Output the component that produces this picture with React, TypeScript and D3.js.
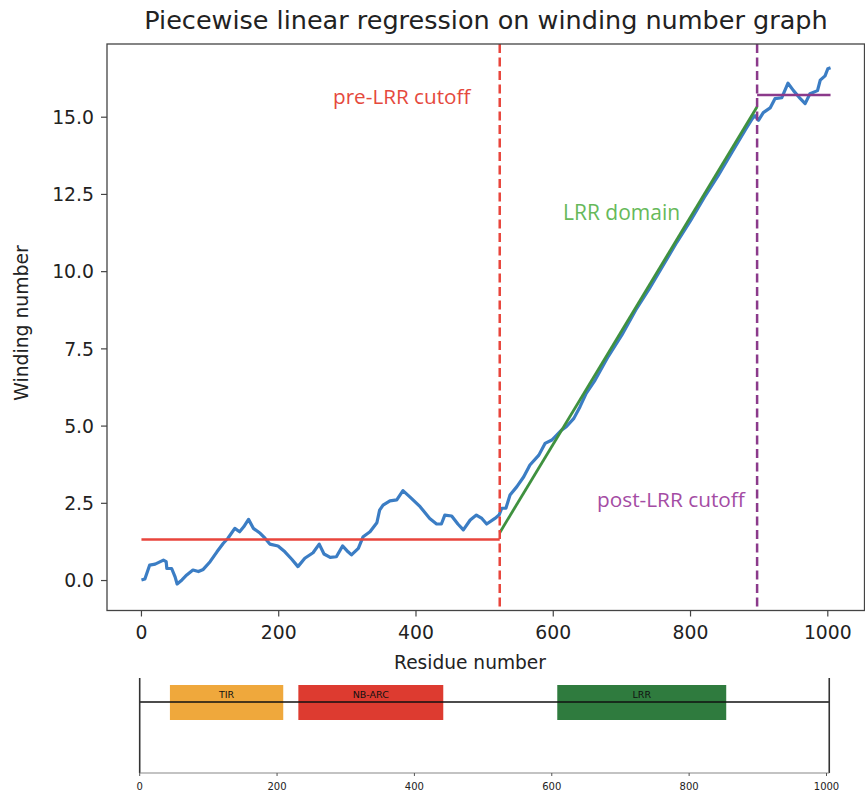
import React from "react";
import * as d3 from "d3";

// ---------- data ----------
const residues = [0, 5, 12, 20, 32, 36, 37, 44, 49, 52, 59, 66, 75, 83, 90, 100, 110, 119, 126, 136, 143, 149, 156, 163, 173, 180, 187, 199, 209, 219, 228, 238, 250, 259, 266, 275, 284, 293, 301, 306, 316, 323, 333, 343, 347, 352, 362, 372, 381, 391, 406, 420, 430, 437, 442, 452, 461, 469, 479, 488, 496, 503, 515, 521, 525, 531, 537, 547, 557, 566, 579, 588, 598, 605, 612, 619, 630, 639, 648, 661, 680, 700, 720, 740, 760, 780, 800, 820, 840, 860, 880, 890, 894, 899, 906, 916, 923, 933, 942, 950, 960, 967, 974, 985, 989, 996, 1000, 1004];
const winding = [0.02, 0.05, 0.5, 0.53, 0.66, 0.61, 0.39, 0.39, 0.12, -0.11, 0.02, 0.18, 0.34, 0.29, 0.36, 0.61, 0.93, 1.2, 1.37, 1.69, 1.58, 1.74, 1.98, 1.69, 1.53, 1.37, 1.18, 1.12, 0.93, 0.69, 0.45, 0.72, 0.9, 1.18, 0.86, 0.75, 0.77, 1.12, 0.93, 0.83, 1.04, 1.42, 1.58, 1.87, 2.28, 2.44, 2.58, 2.61, 2.91, 2.71, 2.39, 2.01, 1.83, 1.83, 2.12, 2.09, 1.83, 1.64, 1.96, 2.12, 2.01, 1.83, 2.01, 2.12, 2.34, 2.34, 2.77, 3.04, 3.36, 3.74, 4.06, 4.44, 4.55, 4.71, 4.87, 4.98, 5.25, 5.63, 6.06, 6.49, 7.25, 7.95, 8.75, 9.45, 10.2, 10.95, 11.65, 12.4, 13.1, 13.85, 14.6, 14.95, 15.05, 14.9, 15.15, 15.3, 15.6, 15.63, 16.1, 15.86, 15.6, 15.44, 15.76, 15.86, 16.2, 16.34, 16.57, 16.6];

const preCutoff = 522;
const postCutoff = 897;
const seqLength = 1004;
const preLevel = 1.33;
const lrrStartLevel = 1.55;
const lrrEndLevel = 15.34;
const postLevel = 15.72;

const xTicks = [0, 200, 400, 600, 800, 1000];
const yTicks = [0, 2.5, 5, 7.5, 10, 12.5, 15];

const domainNames = ["TIR", "NB-ARC", "LRR"];
const domainStarts = [44, 231, 608];
const domainEnds = [209, 442, 854];
const domainColors = ["#efa83c", "#dd3b30", "#2f7b3e"];

// ---------- layout ----------
const W = 865;
const H = 792;
const plot = { left: 107, right: 865, top: 44, bottom: 610.5 };
const panel = { left: 139.7, right: 826.5, top: 678, bottom: 773 };

const dejavu = "'DejaVu Sans', sans-serif";
const annot = "'Open Sans', sans-serif";

export default function App() {
  const x = d3.scaleLinear().domain([-50.2, 1054.2]).range([plot.left, plot.right]);
  const y = d3.scaleLinear().domain([-0.97, 17.37]).range([plot.bottom, plot.top]);
  const px = d3.scaleLinear().domain([0, 1000]).range([panel.left, panel.right]);

  const pts: [number, number][] = residues.map((r, i) => [r, winding[i]]);
  const line = d3
    .line<[number, number]>()
    .x((d) => x(d[0]))
    .y((d) => y(d[1]));

  const fitPre: [number, number][] = [
    [0, preLevel],
    [preCutoff, preLevel],
  ];
  const fitLrr: [number, number][] = [
    [preCutoff, lrrStartLevel],
    [postCutoff, lrrEndLevel],
  ];
  const fitPost: [number, number][] = [
    [postCutoff, postLevel],
    [seqLength, postLevel],
  ];

  const boxTop = 685;
  const boxBottom = 720;
  const lineY = 702;

  return (
    <svg
      width={W}
      height={H}
      style={{ position: "absolute", left: 0, top: 0, background: "#fff" }}
    >
      <rect x={0} y={0} width={W} height={H} fill="#fff" />
      {/* title */}
      <text
        x={486}
        y={29}
        textAnchor="middle"
        fontFamily={dejavu}
        fontSize={25.5}
        fill="#222"
      >
        Piecewise linear regression on winding number graph
      </text>

      {/* data */}
      <path d={line(pts) || ""} fill="none" stroke="#3b7dc4" strokeWidth={3.2} strokeLinejoin="round" />
      <path d={line(fitPre) || ""} fill="none" stroke="#e8453c" strokeWidth={2.5} />
      <path d={line(fitLrr) || ""} fill="none" stroke="#3f913f" strokeWidth={2.8} />
      <path d={line(fitPost) || ""} fill="none" stroke="#8b3a8b" strokeWidth={2.5} />

      {/* cutoffs */}
      <line
        x1={x(preCutoff)}
        x2={x(preCutoff)}
        y1={plot.top}
        y2={plot.bottom}
        stroke="#e8453c"
        strokeWidth={2.5}
        strokeDasharray="9,4.5"
      />
      <line
        x1={x(postCutoff)}
        x2={x(postCutoff)}
        y1={plot.top}
        y2={plot.bottom}
        stroke="#8b3a8b"
        strokeWidth={2.5}
        strokeDasharray="9,4.5"
      />

      {/* frame */}
      <rect
        x={plot.left}
        y={plot.top}
        width={plot.right - plot.left - 0.5}
        height={plot.bottom - plot.top}
        fill="none"
        stroke="#444"
        strokeWidth={1.3}
      />

      {/* x ticks */}
      {xTicks.map((t) => (
        <g key={"xt" + t}>
          <line x1={x(t)} x2={x(t)} y1={plot.bottom} y2={plot.bottom + 6} stroke="#444" strokeWidth={1.2} />
          <text x={x(t)} y={plot.bottom + 28} textAnchor="middle" fontFamily={dejavu} fontSize={18.8} fill="#222">
            {t}
          </text>
        </g>
      ))}
      {/* y ticks */}
      {yTicks.map((t) => (
        <g key={"yt" + t}>
          <line x1={plot.left - 6} x2={plot.left} y1={y(t)} y2={y(t)} stroke="#444" strokeWidth={1.2} />
          <text
            x={plot.left - 13}
            y={y(t)}
            dy="0.36em"
            textAnchor="end"
            fontFamily={dejavu}
            fontSize={18.8}
            fill="#222"
          >
            {t.toFixed(1)}
          </text>
        </g>
      ))}

      {/* axis labels */}
      <text x={470} y={669} textAnchor="middle" fontFamily={dejavu} fontSize={18.6} fill="#222">
        Residue number
      </text>
      <text
        transform={`translate(28,323) rotate(-90)`}
        textAnchor="middle"
        fontFamily={dejavu}
        fontSize={18.8}
        fill="#222"
      >
        Winding number
      </text>

      {/* annotations */}
      <text x={333} y={104} fontFamily={annot} fontSize={20.7} fontWeight={500} fill="#e5493d">
        pre-LRR cutoff
      </text>
      <text x={563} y={220} fontFamily={annot} fontSize={21} fontWeight={500} fill="#66b95a">
        LRR domain
      </text>
      <text x={597} y={507} fontFamily={annot} fontSize={20.8} fontWeight={500} fill="#a44ca4">
        post-LRR cutoff
      </text>

      {/* domain panel */}
      {domainNames.map((n, i) => (
        <g key={n}>
          <rect
            x={px(domainStarts[i])}
            y={boxTop}
            width={px(domainEnds[i]) - px(domainStarts[i])}
            height={boxBottom - boxTop}
            fill={domainColors[i]}
          />
        </g>
      ))}
      <line x1={px(0)} x2={px(seqLength)} y1={lineY} y2={lineY} stroke="#111" strokeWidth={1.6} />
      {domainNames.map((n, i) => (
        <text
          key={"lbl" + n}
          x={(px(domainStarts[i]) + px(domainEnds[i])) / 2}
          y={698}
          textAnchor="middle"
          fontFamily={dejavu}
          fontSize={9.5}
          fill="#111"
        >
          {n}
        </text>
      ))}
      <line x1={px(0)} x2={px(0)} y1={panel.top} y2={panel.bottom} stroke="#333" strokeWidth={1.6} />
      <line x1={px(seqLength)} x2={px(seqLength)} y1={panel.top} y2={panel.bottom} stroke="#333" strokeWidth={1.6} />
      <line x1={px(0)} x2={px(seqLength)} y1={panel.bottom} y2={panel.bottom} stroke="#888" strokeWidth={1.2} />
      {xTicks.map((t) => (
        <g key={"pt" + t}>
          <line x1={px(t)} x2={px(t)} y1={panel.bottom} y2={panel.bottom + 3} stroke="#555" strokeWidth={1} />
          <text x={px(t)} y={790} textAnchor="middle" fontFamily={dejavu} fontSize={10} fill="#222">
            {t}
          </text>
        </g>
      ))}
    </svg>
  );
}
